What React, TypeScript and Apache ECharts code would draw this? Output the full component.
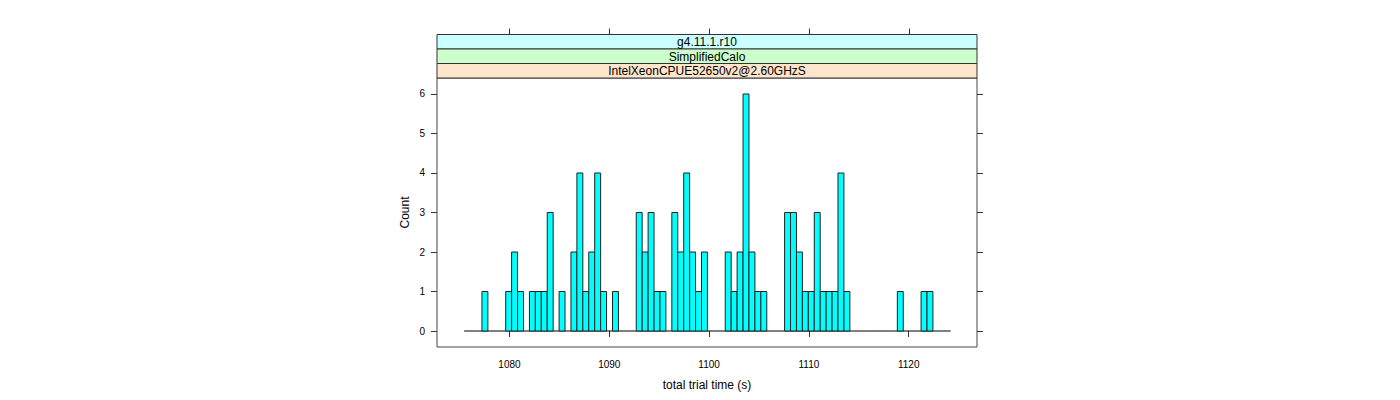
import React, { useEffect, useRef } from "react";
import * as echarts from "echarts";

// Histogram bins: start, width and count per bin
const binStart = 1075.46;
const binWidth = 0.5945;
const binCounts = [
  0, 0, 0, 1, 0, 0, 0, 1, 2, 1,
  0, 1, 1, 1, 3, 0, 1, 0, 2, 4,
  1, 2, 4, 1, 0, 1, 0, 0, 0, 3,
  2, 3, 1, 1, 0, 3, 2, 4, 2, 1,
  2, 0, 0, 0, 2, 1, 2, 6, 2, 1,
  1, 0, 0, 0, 3, 3, 2, 1, 1, 3,
  1, 1, 1, 4, 1, 0, 0, 0, 0, 0,
  0, 0, 0, 1, 0, 0, 0, 1, 1, 0,
  0, 0,
];
const xTicks = [1080, 1090, 1100, 1110, 1120];
const yTicks = [0, 1, 2, 3, 4, 5, 6];
const stripLabels = ["g4.11.1.r10", "SimplifiedCalo", "IntelXeonCPUE52650v2@2.60GHzS"];
const stripColors = ["#ccffff", "#ccffcc", "#ffe5cc"];
const xTitle = "total trial time (s)";
const yTitle = "Count";

const FONT = "'Liberation Sans', Arial, Helvetica, sans-serif";

export default function App() {
  const ref = useRef<HTMLDivElement>(null);
  useEffect(() => {
    document.body.style.margin = "0";
    const chart = echarts.init(ref.current!, null, { renderer: "svg" });
    const gridLeft = 437;
    const gridTop = 78;
    const gridW = 540;
    const gridH = 269;
    const xMin = 1072.74;
    const xMax = 1126.84;
    const yMin = -0.405;
    const yMax = 6.405;

    const barData = binCounts.map((c, i) => [
      binStart + i * binWidth,
      binStart + (i + 1) * binWidth,
      c,
    ]);
    const binEnd = binStart + binCounts.length * binWidth;

    const stripH = 14.5;
    const stripTop = gridTop - stripH * stripLabels.length;
    const stripGraphics: any[] = [];
    stripLabels.forEach((lab, k) => {
      const y = stripTop + stripH * k;
      stripGraphics.push({
        type: "rect",
        shape: { x: gridLeft, y, width: gridW, height: stripH },
        style: { fill: stripColors[k], stroke: "#333", lineWidth: 1 },
        z: 10,
      });
      stripGraphics.push({
        type: "text",
        x: gridLeft + gridW / 2,
        y: y + stripH / 2 + 0.5,
        style: {
          text: lab,
          fill: "#000",
          font: `12px ${FONT}`,
          textAlign: "center",
          textVerticalAlign: "middle",
        },
        z: 11,
      });
    });

    const axisCommon = {
      type: "value" as const,
      axisLine: { show: false },
      splitLine: { show: false },
    };
    const hiddenLabel = (vals: number[]) => ({
      show: true,
      customValues: vals,
      formatter: () => "",
      color: "rgba(0,0,0,0)",
    });

    const titleGraphics = [
      {
        type: "text",
        x: gridLeft + gridW / 2,
        y: 385,
        style: {
          text: xTitle,
          fill: "#000",
          font: `12px ${FONT}`,
          textAlign: "center",
          textVerticalAlign: "middle",
        },
      },
      {
        type: "text",
        x: 405,
        y: gridTop + gridH / 2,
        rotation: Math.PI / 2,
        style: {
          text: yTitle,
          fill: "#000",
          font: `12px ${FONT}`,
          textAlign: "center",
          textVerticalAlign: "middle",
        },
      },
    ];

    chart.setOption({
      animation: false,
      backgroundColor: "#fff",
      grid: {
        left: gridLeft,
        top: gridTop,
        width: gridW,
        height: gridH,
        show: true,
        borderColor: "#444",
        borderWidth: 1,
        containLabel: false,
        outerBoundsMode: "none",
      },
      xAxis: [
        {
          ...axisCommon,
          position: "bottom",
          min: xMin,
          max: xMax,
          axisTick: { show: true, length: 6, customValues: xTicks, lineStyle: { color: "#333" } },
          axisLabel: {
            show: true,
            customValues: xTicks,
            formatter: (v: number) => String(v),
            margin: 12,
            fontSize: 10,
            fontFamily: FONT,
            color: "#000",
          },
        },
      ],
      yAxis: [
        {
          ...axisCommon,
          position: "left",
          min: yMin,
          max: yMax,
          axisTick: { show: true, length: 6, customValues: yTicks, lineStyle: { color: "#333" } },
          axisLabel: {
            show: true,
            customValues: yTicks,
            formatter: (v: number) => String(v),
            margin: 12,
            fontSize: 10,
            fontFamily: FONT,
            color: "#000",
          },
        },
        {
          ...axisCommon,
          position: "right",
          min: yMin,
          max: yMax,
          axisTick: { show: true, length: 6, customValues: yTicks, lineStyle: { color: "#333" } },
          axisLabel: hiddenLabel(yTicks),
        },
      ],
      series: [
        {
          type: "line",
          xAxisIndex: 0,
          yAxisIndex: 0,
          data: [
            [binStart, 0],
            [binEnd, 0],
          ],
          symbol: "none",
          silent: true,
          lineStyle: { color: "#000", width: 1 },
          z: 1,
        },
        {
          type: "custom",
          xAxisIndex: 0,
          yAxisIndex: 0,
          data: barData,
          encode: { x: [0, 1], y: 2 },
          clip: false,
          z: 2,
          renderItem: (params: any, api: any) => {
            const l = api.value(0);
            const r = api.value(1);
            const c = api.value(2);
            if (!c) return null;
            const p0 = api.coord([l, c]);
            const p1 = api.coord([r, 0]);
            return {
              type: "rect",
              shape: {
                x: p0[0],
                y: p0[1],
                width: p1[0] - p0[0],
                height: p1[1] - p0[1],
              },
              style: { fill: "#00ffff", stroke: "#222", lineWidth: 1 },
            };
          },
        },
      ],
      graphic: [...stripGraphics, ...titleGraphics],
    });

    // Top ticks above the strips, positioned with the x axis scale
    const topTicks = xTicks.map((v) => {
      const px = Math.round(chart.convertToPixel({ xAxisIndex: 0 }, v) as number) + 0.5;
      return {
        type: "line",
        shape: { x1: px, y1: stripTop, x2: px, y2: stripTop - 6 },
        style: { stroke: "#333", lineWidth: 1 },
      };
    });
    chart.setOption({
      graphic: [...stripGraphics, ...titleGraphics, ...topTicks],
    });

    return () => chart.dispose();
  }, []);
  return (
    <div
      ref={ref}
      style={{ position: "absolute", left: 0, top: 0, width: 1400, height: 400 }}
    />
  );
}
